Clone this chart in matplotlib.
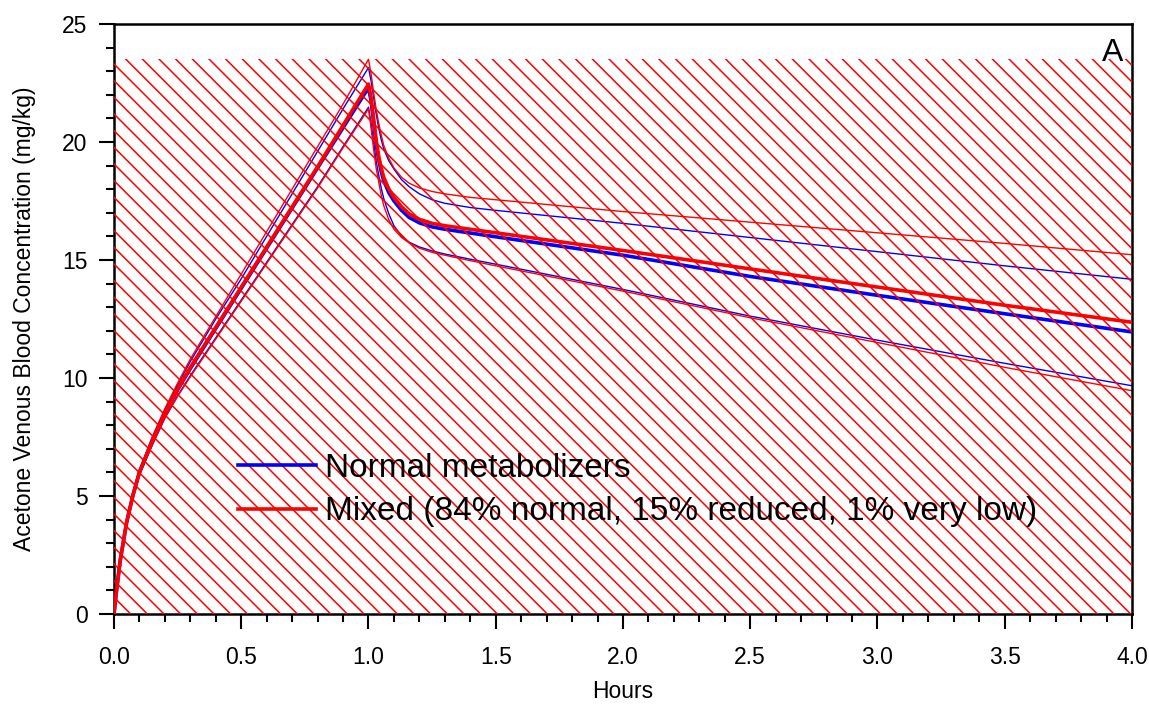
import numpy as np
import matplotlib
matplotlib.use("Agg")
import matplotlib.pyplot as plt
from matplotlib.ticker import MultipleLocator, FormatStrFormatter

plt.rcParams['font.family'] = ['Liberation Sans', 'DejaVu Sans']
plt.rcParams['hatch.linewidth'] = 1.1

# time grid (hours)
hours = [0, 0.01, 0.025, 0.05, 0.075, 0.1, 0.15, 0.2, 0.25, 0.3, 0.4, 0.5, 0.6, 0.7, 0.8, 0.9, 1.0,
         1.01, 1.02, 1.03, 1.04, 1.05, 1.06, 1.08, 1.1, 1.13, 1.16, 1.2, 1.25, 1.3, 1.4, 1.5,
         2.0, 2.5, 3.0, 3.5, 4.0]

# medians
normal_med = [0, 1.0, 2.3, 3.9, 5.05, 6.0, 7.3, 8.5, 9.5, 10.4, 12.1, 13.8, 15.5, 17.2, 18.9, 20.6, 22.3,
              21.75, 20.85, 19.95, 19.25, 18.75, 18.35, 17.85, 17.5, 17.1, 16.8, 16.57, 16.4, 16.3, 16.14, 15.98,
              15.2, 14.3, 13.5, 12.72, 11.95]
mixed_med = [0, 1.0, 2.3, 3.9, 5.05, 6.0, 7.3, 8.5, 9.52, 10.45, 12.15, 13.85, 15.55, 17.25, 18.95, 20.7, 22.45,
             21.9, 21.0, 20.1, 19.4, 18.9, 18.5, 18.0, 17.65, 17.25, 16.95, 16.72, 16.55, 16.45, 16.3, 16.15,
             15.4, 14.62, 13.85, 13.08, 12.36]

# upper percentiles
normal_hi = [0, 1.02, 2.35, 4.0, 5.15, 6.1, 7.45, 8.65, 9.7, 10.7, 12.5, 14.2, 16.0, 17.8, 19.6, 21.4, 23.15,
             22.6, 21.9, 21.2, 20.6, 20.1, 19.7, 19.2, 18.85, 18.4, 18.1, 17.8, 17.55, 17.4, 17.22, 17.1,
             16.55, 15.95, 15.35, 14.75, 14.18]
mixed_hi = [0, 1.02, 2.35, 4.0, 5.15, 6.1, 7.5, 8.7, 9.78, 10.8, 12.6, 14.4, 16.2, 18.0, 19.8, 21.6, 23.5,
            22.9, 22.1, 21.4, 20.8, 20.3, 19.85, 19.3, 18.9, 18.5, 18.25, 18.05, 17.9, 17.8, 17.65, 17.55,
            17.05, 16.6, 16.15, 15.7, 15.22]

# lower percentiles
normal_lo = [0, 0.98, 2.25, 3.8, 4.95, 5.9, 7.15, 8.3, 9.25, 10.1, 11.7, 13.3, 14.9, 16.5, 18.1, 19.8, 21.47,
             20.8, 20.0, 19.2, 18.6, 18.05, 17.6, 16.95, 16.45, 16.0, 15.75, 15.55, 15.38, 15.25, 15.03, 14.82,
             13.75, 12.62, 11.6, 10.62, 9.67]
mixed_lo = [0, 0.98, 2.25, 3.8, 4.95, 5.9, 7.15, 8.3, 9.22, 10.05, 11.65, 13.25, 14.85, 16.45, 18.05, 19.75, 21.4,
            20.6, 19.7, 18.9, 18.3, 17.75, 17.3, 16.7, 16.3, 15.95, 15.72, 15.5, 15.32, 15.2, 14.97, 14.75,
            13.68, 12.55, 11.5, 10.45, 9.46]

# hatched band
band_x = [0, 4]
band_top = [23.5, 23.5]

fig = plt.figure(figsize=(11.49, 7.05), dpi=100)
ax = fig.add_axes([0.0992, 0.1291, 0.886, 0.837])

ax.plot(hours, normal_med, color='blue', lw=2.6, label='Normal metabolizers', zorder=3)
ax.plot(hours, mixed_med, color='red', lw=2.6,
        label='Mixed (84% normal, 15% reduced, 1% very low)', zorder=3)
ax.plot(hours, normal_hi, color='blue', lw=1.0, zorder=2)
ax.plot(hours, normal_lo, color='blue', lw=1.0, zorder=2)
ax.plot(hours, mixed_hi, color='red', lw=1.0, zorder=2)
ax.plot(hours, mixed_lo, color='red', lw=1.0, zorder=2)

ax.fill_between(band_x, 0, band_top, facecolor='none', edgecolor='red',
                hatch='\\\\', linewidth=0, zorder=4)

ax.set_xlim(0, 4)
ax.set_ylim(0, 25)
ax.xaxis.set_major_locator(MultipleLocator(0.5))
ax.xaxis.set_minor_locator(MultipleLocator(0.1))
ax.xaxis.set_major_formatter(FormatStrFormatter('%.1f'))
ax.yaxis.set_major_locator(MultipleLocator(5))
ax.yaxis.set_minor_locator(MultipleLocator(1))

for s in ax.spines.values():
    s.set_linewidth(1.8)
ax.tick_params(which='major', length=11, width=1.5, labelsize=16.5, direction='out')
ax.tick_params(which='minor', length=5.5, width=1.5, direction='out')
ax.tick_params(axis='x', which='major', pad=12)
ax.tick_params(axis='y', which='major', pad=8)

ax.set_xlabel('Hours', fontsize=16.5, labelpad=8)
ax.set_ylabel('Acetone Venous Blood Concentration (mg/kg)', fontsize=16.5, labelpad=19)

ax.text(0.991, 0.951, 'A', transform=ax.transAxes, ha='right', va='center', fontsize=23)

ax.legend(loc='center left', bbox_to_anchor=(0.122, 0.21), frameon=False, fontsize=24,
          handlelength=2.33, handletextpad=0.27, labelspacing=0.37, borderpad=0,
          borderaxespad=0)

fig.savefig('out.png', dpi=100)
